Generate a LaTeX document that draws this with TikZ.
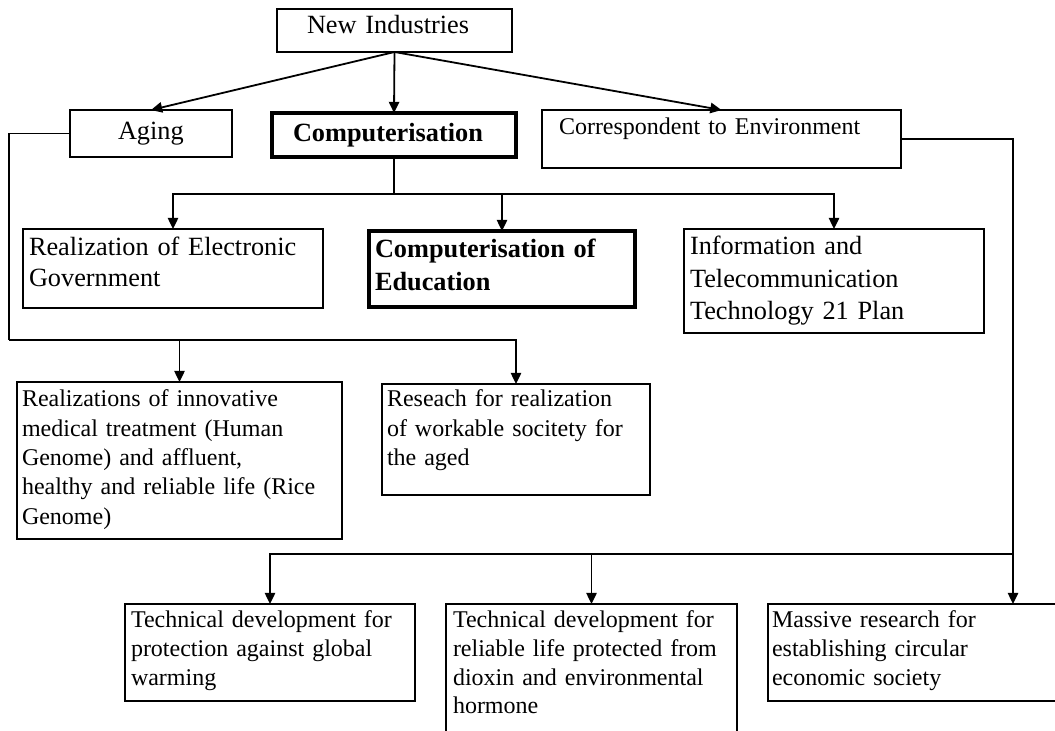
\documentclass[tikz,border=0pt]{standalone}
\usepackage{fontspec}
\setmainfont{Liberation Serif}
\usetikzlibrary{arrows.meta}
\begin{document}
\begin{tikzpicture}[x=0.5pt,y=-0.5pt,
  box/.style={draw, line width=0.9pt, inner sep=0pt, outer sep=0pt, anchor=north west},
  thickbox/.style={box, line width=2pt},
  txt/.style={anchor=base west, inner sep=0pt, outer sep=0pt, align=left, text width=170pt},
  big/.style={font=\fontsize{13.15pt}{15.5pt}\selectfont},
  small/.style={font=\fontsize{12pt}{14.5pt}\selectfont},
  conn/.style={line width=0.9pt},
  arr/.style={conn, -{Triangle[length=5.6pt,width=5.2pt]}}]
\useasboundingbox (0,0) rectangle (1055,731);
\fill[white] (0,0) rectangle (1055,731);
\clip (0,0) rectangle (1055,731);
% boxes
\node[box, minimum width=117.5pt, minimum height=21.5pt] (ni) at (277,9) {};
\node[box, minimum width=81pt, minimum height=23.5pt] (aging) at (70,110) {};
\node[thickbox, minimum width=122pt, minimum height=22pt] (comp) at (272,113) {};
\node[box, minimum width=179.5pt, minimum height=29pt] (corr) at (542,110) {};
\node[box, minimum width=150pt, minimum height=39.5pt] (real) at (23,229) {};
\node[thickbox, minimum width=133pt, minimum height=38pt] (coe) at (369,231) {};
\node[box, minimum width=150pt, minimum height=52pt] (info) at (684,229) {};
\node[box, minimum width=162.5pt, minimum height=78.5pt] (realz) at (17,382) {};
\node[box, minimum width=134pt, minimum height=55.5pt] (res) at (382,384) {};
\node[box, minimum width=145pt, minimum height=48.5pt] (tdone) at (125,604) {};
\node[box, minimum width=145.5pt, minimum height=78pt] (tdtwo) at (446,604) {};
\node[box, minimum width=148.5pt, minimum height=48.5pt] (mass) at (768,604) {};
% texts
\node[txt, big] (ni-t) at (307,34) {New Industries};
\node[txt, big] (aging-t) at (118,140) {Aging};
\node[txt, font=\fontsize{13.15pt}{15.5pt}\selectfont\bfseries] (comp-t) at (293,142) {Computerisation};
\node[txt, small] (corr-t) at (559,135) {Correspondent to Environment};
\node[txt, font=\fontsize{13.15pt}{15.5pt}\selectfont] (real-t) at (29,256) {Realization of Electronic\\Government};
\node[txt, font=\fontsize{13.15pt}{16.5pt}\selectfont\bfseries] (coe-t) at (375,258) {Computerisation of\\Education};
\node[txt, font=\fontsize{13.15pt}{16.25pt}\selectfont] (info-t) at (690,255) {Information and\\Telecommunication\\Technology 21 Plan};
\node[txt, font=\fontsize{12pt}{14.65pt}\selectfont] (realz-t) at (22,407) {Realizations of innovative\\medical treatment (Human\\Genome) and affluent,\\healthy and reliable life (Rice\\Genome)};
\node[txt, font=\fontsize{12pt}{14.75pt}\selectfont] (res-t) at (387,407) {Reseach for realization\\of workable socitety for\\the aged};
\node[txt, font=\fontsize{12pt}{14.25pt}\selectfont] (tdone-t) at (131,628) {Technical development for\\protection against global\\warming};
\node[txt, font=\fontsize{12pt}{14.25pt}\selectfont] (tdtwo-t) at (453,628) {Technical development for\\reliable life protected from\\dioxin and environmental\\hormone};
\node[txt, font=\fontsize{12pt}{14.25pt}\selectfont] (mass-t) at (772,628) {Massive research for\\establishing circular\\economic society};
% junctions
\coordinate (cj) at (394,194);
\coordinate (aj) at (9,340);
\coordinate (ej) at (1013,554);
% connectors
\draw[arr] (ni.south) -- (aging.north);
\draw[arr] (ni.south) -- (comp.north);
\draw[arr] (ni.south) -- (corr.north);
\draw[conn] (comp.south) -- (cj);
\draw[arr] (cj) -| (real.north);
\draw[arr] (cj) -| (coe.north);
\draw[arr] (cj) -| (info.north);
\draw[conn] (aging.west) -| (aj);
\draw[arr] (aj) -| (realz.north);
\draw[arr] (aj) -| (res.north);
\draw[arr] (corr.east) -| (ej |- mass.north);
\draw[arr] (ej) -| (tdone.north);
\draw[arr] (ej) -| (tdtwo.north);
\end{tikzpicture}
\end{document}
